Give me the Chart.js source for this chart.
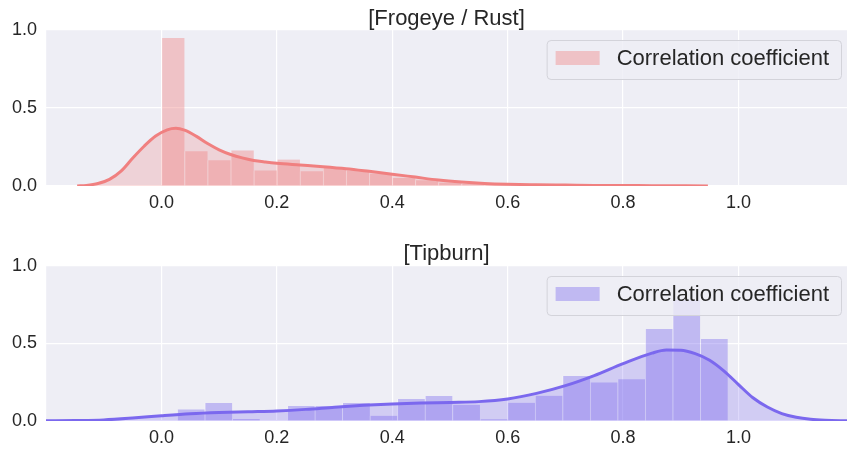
<!DOCTYPE html>
<html>
<head>
<meta charset="utf-8">
<script src="https://cdn.jsdelivr.net/npm/chart.js@4.4.1/dist/chart.umd.min.js"></script>
<style>
  body { margin: 0; background: #fff; overflow: hidden; }
  #wrap { position: relative; width: 847px; height: 449px; }
  #topChart { position: absolute; left: 0; top: 0; }
  #bottomChart { position: absolute; left: 0; top: 230px; }
</style>
</head>
<body>
<div id="wrap">
  <canvas id="topChart" width="847" height="230"></canvas>
  <canvas id="bottomChart" width="847" height="219"></canvas>
</div>
<script>
// Frogeye / Rust histogram (bin centres, density)
const topBinCenters = [0.02, 0.06, 0.10, 0.14, 0.18, 0.22, 0.26, 0.30, 0.34, 0.38,
                       0.42, 0.46, 0.50, 0.54, 0.58, 0.62, 0.66, 0.70, 0.74, 0.78];
const topBinHeights = [0.948, 0.222, 0.165, 0.228, 0.100, 0.170, 0.094, 0.115, 0.100, 0.080,
                       0.051, 0.037, 0.022, 0.013, 0.010, 0.006, 0.004, 0.003, 0.002, 0.003];
// Frogeye / Rust KDE curve
const topKdeX = [-0.146, -0.13, -0.11, -0.09, -0.07, -0.05, -0.03, -0.01, 0.01, 0.025,
                 0.04, 0.06, 0.08, 0.10, 0.12, 0.14, 0.16, 0.18, 0.20, 0.24,
                 0.28, 0.32, 0.36, 0.40, 0.44, 0.48, 0.52, 0.56, 0.60, 0.65,
                 0.70, 0.75, 0.80, 0.85, 0.90, 0.947];
const topKdeY = [0.000, 0.004, 0.016, 0.042, 0.095, 0.178, 0.255, 0.320, 0.360, 0.370,
                 0.358, 0.320, 0.272, 0.232, 0.202, 0.180, 0.164, 0.154, 0.146, 0.135,
                 0.124, 0.111, 0.094, 0.076, 0.057, 0.038, 0.025, 0.016, 0.011, 0.008,
                 0.006, 0.004, 0.003, 0.002, 0.001, 0.000];

// Tipburn histogram
const bottomBinCenters = [0.0511, 0.0988, 0.1465, 0.1942, 0.2419, 0.2896, 0.3373, 0.3850, 0.4327, 0.4804,
                          0.5281, 0.5758, 0.6235, 0.6712, 0.7189, 0.7666, 0.8143, 0.8620, 0.9097, 0.9574];
const bottomBinHeights = [0.075, 0.116, 0.013, 0.000, 0.097, 0.097, 0.116, 0.034, 0.142, 0.161,
                          0.105, 0.011, 0.118, 0.163, 0.290, 0.249, 0.269, 0.594, 0.780, 0.529];
// Tipburn KDE curve
const bottomKdeX = [-0.20, -0.15, -0.10, -0.05, 0.00, 0.05, 0.10, 0.15, 0.20, 0.25,
                    0.30, 0.35, 0.40, 0.45, 0.50, 0.55, 0.60, 0.65, 0.70, 0.75,
                    0.80, 0.85, 0.875, 0.90, 0.925, 0.95, 0.975, 1.00, 1.025, 1.05,
                    1.075, 1.10, 1.125, 1.15, 1.19];
const bottomKdeY = [0.001, 0.003, 0.007, 0.019, 0.034, 0.047, 0.055, 0.060, 0.065, 0.075,
                    0.089, 0.101, 0.110, 0.116, 0.120, 0.125, 0.142, 0.178, 0.228, 0.293,
                    0.370, 0.438, 0.458, 0.457, 0.435, 0.392, 0.322, 0.235, 0.150, 0.090,
                    0.048, 0.024, 0.011, 0.005, 0.001];

const xTicks = [0.0, 0.2, 0.4, 0.6, 0.8, 1.0];
const yTicks = [0.0, 0.5, 1.0];
const legendLabel = 'Correlation coefficient';

Chart.defaults.font.family = "'Liberation Sans', Arial, sans-serif";
Chart.defaults.color = '#262626';

const panelBackground = {
  id: 'panelBackground',
  beforeDraw(chart) {
    const { ctx, chartArea: a } = chart;
    ctx.save();
    ctx.fillStyle = '#EEEEF5';
    ctx.fillRect(a.left, a.top, a.right - a.left, a.bottom - a.top);
    ctx.restore();
  }
};

const boxLegend = {
  id: 'boxLegend',
  afterDatasetsDraw(chart) {
    const { ctx, chartArea: a } = chart;
    const ds = chart.data.datasets.find(d => d.type === 'bar');
    ctx.save();
    ctx.font = "22px 'Liberation Sans', Arial, sans-serif";
    const tw = ctx.measureText(ds.label).width;
    const w = 70 + tw + 12, h = 39;
    const x = a.right - 6 - w, y = a.top + 10;
    ctx.beginPath();
    ctx.roundRect(x + 0.5, y + 0.5, w, h, 4);
    ctx.fillStyle = 'rgba(238,238,245,0.8)';
    ctx.fill();
    ctx.strokeStyle = '#D3D3DA';
    ctx.lineWidth = 1;
    ctx.stroke();
    ctx.fillStyle = ds.backgroundColor;
    ctx.fillRect(x + 9, y + 11, 44, 14);
    ctx.fillStyle = '#262626';
    ctx.textBaseline = 'middle';
    ctx.fillText(ds.label, x + 70, y + 19);
    ctx.restore();
  }
};

function makeChart(id, title, titlePad, xHeight, color, fill, binX, binY, kdeX, kdeY) {
  return new Chart(document.getElementById(id), {
    type: 'bar',
    data: {
      datasets: [
        {
          type: 'line',
          order: 0,
          data: kdeX.map((x, i) => ({ x, y: kdeY[i] })),
          borderColor: color,
          borderWidth: 3,
          backgroundColor: fill,
          fill: 'origin',
          pointRadius: 0,
          cubicInterpolationMode: 'monotone'
        },
        {
          type: 'bar',
          order: 1,
          label: legendLabel,
          data: binX.map((x, i) => ({ x, y: binY[i] })),
          backgroundColor: color.replace('rgb(', 'rgba(').replace(')', ',0.4)'),
          borderColor: 'rgba(255,255,255,0.35)',
          borderWidth: { left: 1, right: 0, top: 0, bottom: 0 },
          barPercentage: 1,
          categoryPercentage: 1
        }
      ]
    },
    options: {
      responsive: false,
      animation: false,
      layout: { padding: 0 },
      plugins: {
        legend: { display: false },
        tooltip: { enabled: false },
        title: {
          display: true,
          text: title,
          fullSize: false,
          color: '#262626',
          font: { size: 22, weight: 'normal', lineHeight: 1.0 },
          padding: titlePad
        }
      },
      scales: {
        x: {
          type: 'linear',
          min: -0.2,
          max: 1.188,
          offset: false,
          border: { display: false },
          grid: { color: '#FFFFFF', lineWidth: 1.2, drawTicks: false, offset: false },
          afterBuildTicks: s => { s.ticks = [-0.2].concat(xTicks).map(v => ({ value: v })); },
          afterFit: s => { s.height = xHeight; },
          ticks: {
            padding: 6,
            font: { size: 18 },
            callback: v => (xTicks.some(t => Math.abs(t - v) < 1e-6) ? Math.abs(v).toFixed(1) : '')
          }
        },
        y: {
          min: 0,
          max: 1,
          border: { display: false },
          grid: { color: '#FFFFFF', lineWidth: 1.2, drawTicks: false },
          afterBuildTicks: s => { s.ticks = yTicks.map(v => ({ value: v })); },
          afterFit: s => { s.width = 46; },
          ticks: {
            padding: 9,
            font: { size: 18 },
            callback: v => v.toFixed(1)
          }
        }
      }
    },
    plugins: [panelBackground, boxLegend]
  });
}

makeChart('topChart', '[Frogeye / Rust]', { top: 8, bottom: 0 }, 44,
  'rgb(240,128,128)', 'rgba(240,128,128,0.25)',
  topBinCenters, topBinHeights, topKdeX, topKdeY);

makeChart('bottomChart', '[Tipburn]', { top: 13, bottom: 1 }, 28,
  'rgb(123,104,238)', 'rgba(123,104,238,0.25)',
  bottomBinCenters, bottomBinHeights, bottomKdeX, bottomKdeY);
</script>
</body>
</html>
